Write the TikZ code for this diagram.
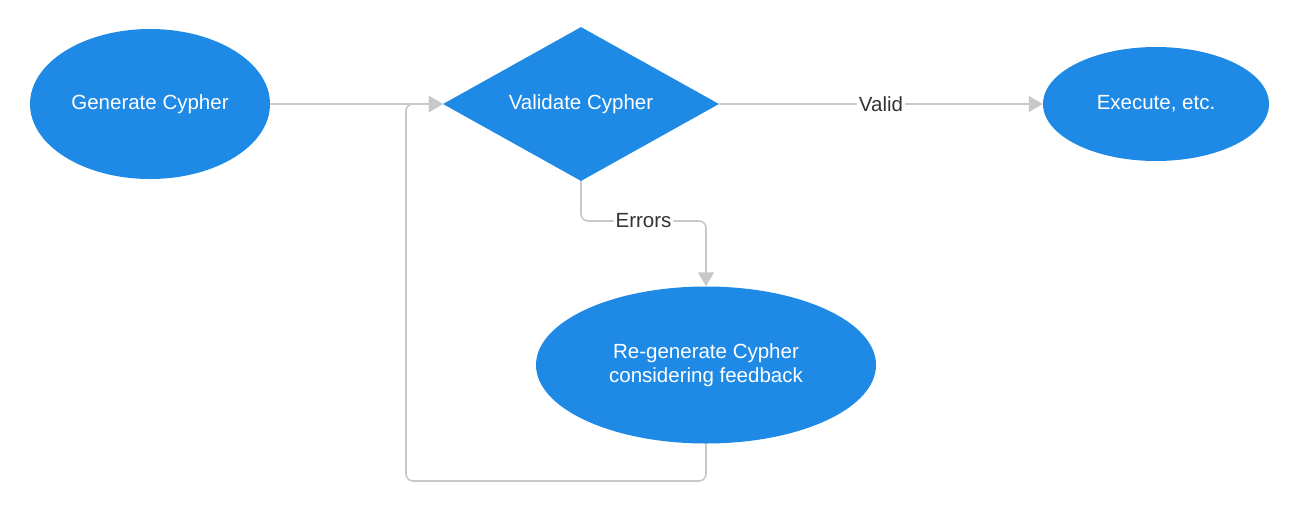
\documentclass[tikz,border=0pt]{standalone}
\usepackage{fontspec}
\setmainfont{Liberation Sans}
\usetikzlibrary{shapes.geometric,arrows.meta}
\definecolor{nodeblue}{RGB}{30,138,229}
\definecolor{linegray}{RGB}{200,200,200}
\definecolor{labelgray}{RGB}{51,51,51}
\begin{document}
\begin{tikzpicture}[x=1pt,y=-1pt,
  blob/.style={ellipse,fill=nodeblue,draw=none,inner sep=0pt,text=white,align=center,font=\fontsize{20.5}{24}\selectfont},
  rhomb/.style={diamond,fill=nodeblue,draw=none,inner sep=0pt,shape aspect=1.8,text=white,font=\fontsize{20.5}{24}\selectfont},
  conn/.style={draw=linegray,line width=1.6pt,rounded corners=7pt,-{Triangle[length=14pt,width=16pt,fill=linegray]}},
  connlabel/.style={fill=white,inner sep=2pt,text=labelgray,font=\fontsize{20.5}{24}\selectfont}]
\useasboundingbox (0,0) rectangle (1300,507);
\node[blob,minimum width=240pt,minimum height=150pt] (gen) at (150,104) {Generate Cypher};
\node[rhomb,minimum width=276pt,minimum height=154pt] (val) at (581,104) {Validate Cypher};
\node[blob,minimum width=226pt,minimum height=114pt] (exe) at (1156,104) {Execute, etc.};
\node[blob,minimum width=340pt,minimum height=157pt] (regen) at (706,365) {Re-generate Cypher\\considering feedback};
\coordinate (loopA) at (406,481);
\coordinate (loopB) at (406,104);
\draw[conn] (gen.east) -- (val.west);
\draw[conn] (val.east) -- node[connlabel]{Valid} (exe.west);
\draw[conn] (val.south) -- (val.south |- 0,221) -- node[connlabel]{Errors} (regen.north |- 0,221) -- (regen.north);
\draw[conn] (regen.south) -- (regen.south |- loopA) -- (loopA) -- (loopB) -- (val.west);
\end{tikzpicture}
\end{document}
